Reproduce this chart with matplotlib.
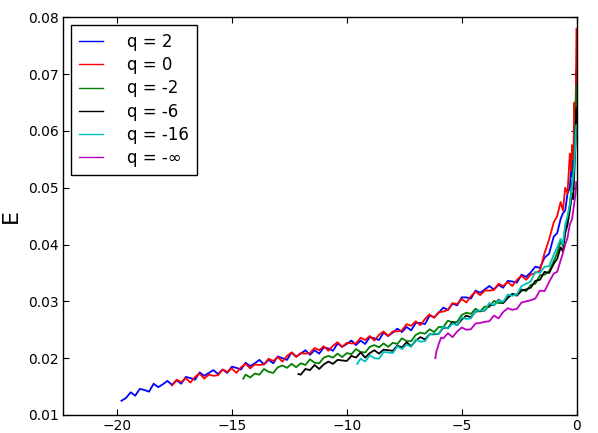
import matplotlib
matplotlib.use("Agg")
import matplotlib.pyplot as plt
import numpy as np

# E values are read off the picture in units of 1e-4, sampled every 0.2 in x,
# followed by a denser hand-read tail close to x = 0
blue_start = -19.8
blue_y = [125, 130, 140, 134, 146, 144, 141, 155, 149, 154,
          160, 153, 161, 155, 167, 165, 162, 175, 169, 174,
          179, 172, 180, 174, 185, 183, 180, 192, 186, 191,
          197, 189, 197, 191, 203, 200, 197, 210, 203, 208,
          214, 206, 214, 208, 219, 217, 213, 226, 220, 225,
          231, 223, 231, 225, 237, 235, 232, 245, 239, 245,
          252, 246, 255, 249, 262, 262, 260, 275, 272, 280,
          289, 285, 296, 293, 307, 307, 305, 319, 315, 321,
          327, 321, 329, 324, 336, 335, 333, 347, 343, 351,
          361, 359, 377, 384, 414]
blue_tail_x = [-0.85, -0.7, -0.6, -0.5, -0.4, -0.3, -0.25, -0.2, -0.15, -0.1, -0.07, -0.05, -0.03, -0.01]
blue_tail_y = [420, 445, 455, 460, 490, 500, 530, 520, 570, 560, 620, 600, 705, 650]

red_start = -17.6
red_y = [152, 162, 158, 165, 157, 167, 173, 164, 171, 169,
         170, 180, 176, 182, 174, 184, 190, 182, 189, 188,
         189, 199, 195, 202, 194, 204, 210, 202, 209, 208,
         209, 218, 214, 221, 213, 222, 228, 220, 227, 226,
         226, 236, 232, 239, 231, 241, 247, 239, 247, 247,
         249, 260, 257, 265, 258, 269, 277, 271, 281, 282,
         285, 297, 295, 304, 298, 309, 317, 311, 319, 319,
         320, 331, 327, 334, 327, 338, 345, 338, 347, 350,
         354, 385, 409, 439]
red_tail_x = [-0.85, -0.7, -0.6, -0.5, -0.4, -0.3, -0.25, -0.2, -0.15, -0.1, -0.07, -0.05, -0.03, -0.01]
red_tail_y = [450, 475, 460, 500, 490, 560, 530, 575, 550, 650, 600, 620, 700, 780]

green_start = -14.4
green_y = [171, 166, 173, 171, 181, 176, 174, 184, 187, 183,
           190, 184, 191, 188, 198, 192, 191, 201, 204, 201,
           208, 202, 209, 207, 216, 211, 210, 220, 223, 219,
           226, 220, 227, 225, 235, 230, 230, 241, 245, 243,
           251, 246, 255, 255, 266, 263, 264, 276, 280, 278,
           287, 282, 291, 290, 301, 297, 297, 308, 313, 312,
           321, 318, 329, 331, 346, 347, 353, 371]
green_head = (-14.5, 164)
green_tail_x = [-0.85, -0.7, -0.6, -0.5, -0.4, -0.3, -0.2, -0.15, -0.1, -0.05, -0.02]
green_tail_y = [385, 405, 398, 430, 445, 470, 510, 530, 560, 620, 680]

black_start = -12.0
black_y = [171, 181, 179, 188, 181, 189, 194, 190, 197, 196,
           195, 204, 201, 210, 201, 209, 214, 208, 215, 214,
           213, 222, 219, 228, 221, 231, 237, 233, 242, 242,
           243, 254, 253, 264, 258, 268, 275, 272, 282, 283,
           284, 294, 293, 303, 297, 306, 313, 310, 319, 321,
           324, 336, 338, 352, 350, 366]
black_head = (-12.1, 172)
black_tail_x = [-0.85, -0.7, -0.6, -0.5, -0.4, -0.3, -0.2, -0.15, -0.1, -0.05, -0.02]
black_tail_y = [375, 395, 388, 420, 435, 460, 490, 480, 530, 580, 640]

cyan_start = -9.4
cyan_y = [199, 194, 205, 200, 199, 211, 210, 209, 221, 216,
          224, 220, 233, 229, 230, 242, 243, 243, 256, 252,
          261, 258, 272, 269, 270, 283, 284, 284, 297, 293,
          302, 299, 312, 310, 312, 327, 331, 335, 352, 350,
          361, 362, 382]
cyan_head = (-9.55, 190)
cyan_tail_x = [-0.85, -0.7, -0.6, -0.5, -0.4, -0.3, -0.2, -0.1, -0.05, -0.02]
cyan_tail_y = [395, 410, 400, 435, 450, 470, 500, 540, 590, 610]

magenta_start = -5.8
magenta_y = [235, 244, 237, 247, 254, 250, 251, 261, 262, 264,
             265, 275, 270, 281, 288, 285, 287, 298, 300, 302,
             305, 319, 318, 334, 349]
magenta_head_x = [-6.15, -6.1, -6.0, -5.9]
magenta_head_y = [200, 212, 225, 236]
magenta_tail_x = [-0.85, -0.7, -0.6, -0.5, -0.4, -0.3, -0.2, -0.1, -0.05, -0.02]
magenta_tail_y = [352, 372, 385, 400, 412, 435, 445, 475, 490, 510]

labels = ["q = 2", "q = 0", "q = -2", "q = -6", "q = -16", "q = -\u221e"]
colors = ["b", "r", "g", "k", "c", "m"]


def build(start, ys, tail_x, tail_y, head_x=(), head_y=()):
    grid = np.round(start + 0.2 * np.arange(len(ys)), 2)
    x = np.concatenate([head_x, grid, tail_x])
    y = np.concatenate([head_y, ys, tail_y]) * 1e-4
    return x, y


series = [
    build(blue_start, blue_y, blue_tail_x, blue_tail_y),
    build(red_start, red_y, red_tail_x, red_tail_y),
    build(green_start, green_y, green_tail_x, green_tail_y, [green_head[0]], [green_head[1]]),
    build(black_start, black_y, black_tail_x, black_tail_y, [black_head[0]], [black_head[1]]),
    build(cyan_start, cyan_y, cyan_tail_x, cyan_tail_y, [cyan_head[0]], [cyan_head[1]]),
    build(magenta_start, magenta_y, magenta_tail_x, magenta_tail_y, magenta_head_x, magenta_head_y),
]

fig = plt.figure(figsize=(5.98, 4.33), dpi=100)
ax = fig.add_axes([0.1058, 0.0416, 0.8586, 0.9184])

for (x, y), c, lab in zip(series, colors, labels):
    ax.plot(x, y, color=c, lw=1.3, label=lab)

ax.set_xlim(-22.33, 0)
ax.set_ylim(0.01, 0.08)
ax.set_xticks([-20, -15, -10, -5, 0])
ax.set_yticks([0.01, 0.02, 0.03, 0.04, 0.05, 0.06, 0.07, 0.08])
ax.tick_params(direction="in", top=True, right=True, length=4, width=0.8, labelsize=10)
ax.tick_params(axis="x", pad=3)
for s in ax.spines.values():
    s.set_linewidth(1.0)
ax.set_ylabel("E", fontsize=16, labelpad=5)

leg = ax.legend(loc="upper left", fontsize=12, handlelength=1.45, handletextpad=1.4,
                labelspacing=0.31, borderpad=0.5, borderaxespad=0.45, fancybox=False,
                framealpha=1.0)
leg.get_frame().set_edgecolor("black")
leg.get_frame().set_linewidth(1.0)
for line in leg.get_lines():
    line.set_linewidth(1.0)

plt.savefig("out.png", dpi=100)
